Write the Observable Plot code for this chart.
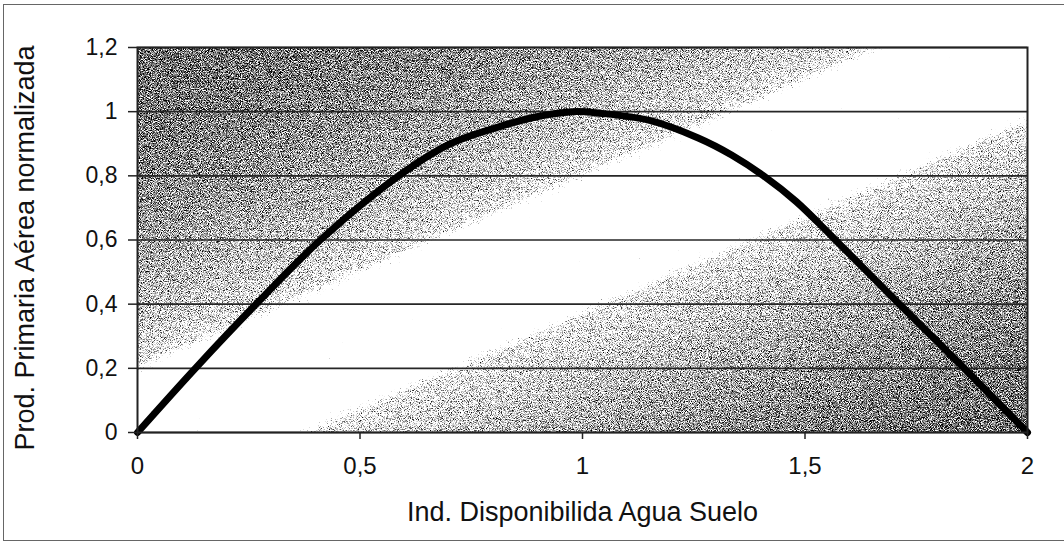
<!DOCTYPE html>
<html>
<head>
<meta charset="utf-8">
<script src="https://cdn.jsdelivr.net/npm/d3@7"></script>
<script src="https://cdn.jsdelivr.net/npm/@observablehq/plot@0.6"></script>
<style>
  html, body { margin: 0; padding: 0; background: #fff; }
  #wrap { position: relative; width: 1064px; height: 547px; overflow: hidden; }
  #border { position: absolute; left: 3px; top: 4px; width: 1070px; height: 537px;
            border: 1.5px solid #666; pointer-events: none; box-sizing: border-box; }
</style>
</head>
<body>
<div id="wrap"><div id="border"></div></div>
<script>
// ---- data ----
const xIndex = [0, 0.13, 0.27, 0.411, 0.587, 0.703, 0.81, 0.9, 0.98, 1.04, 1.153, 1.26, 1.335, 1.407, 1.48, 1.56, 1.705, 1.854, 2];
const yProd  = [0, 0.2, 0.405, 0.6, 0.8, 0.9, 0.952, 0.985, 1.0, 0.995, 0.972, 0.918, 0.865, 0.8, 0.72, 0.612, 0.41, 0.205, 0];
const xTicks = [0, 0.5, 1, 1.5, 2];
const yTicks = [0, 0.2, 0.4, 0.6, 0.8, 1, 1.2];
const xTitle = "Ind. Disponibilida Agua Suelo";
const yTitle = "Prod. Primaria Aérea normalizada";

const data = xIndex.map((x, i) => ({x, y: yProd[i]}));
const fmt = d => String(d).replace(".", ",");

const chart = Plot.plot({
  width: 1064,
  height: 547,
  marginLeft: 137,
  marginRight: 37,
  marginTop: 47,
  marginBottom: 115,
  style: {fontFamily: "'Liberation Sans', Arial, sans-serif", fontSize: "23px", color: "#111", background: "transparent"},
  x: {domain: [0, 2]},
  y: {domain: [0, 1.2]},
  marks: [
    Plot.frame({fill: "url(#bgGrad)", stroke: null}),
    Plot.ruleY(yTicks, {stroke: "#262626", strokeWidth: 1.6}),
    Plot.line(data, {x: "x", y: "y", curve: "catmull-rom", stroke: "#000", strokeWidth: 7, strokeLinejoin: "round", strokeLinecap: "round"}),
    Plot.frame({stroke: "#222", strokeWidth: 2}),
    Plot.axisY(yTicks, {tickFormat: fmt, tickSize: 9, tickPadding: 11, label: null, fontSize: 23, stroke: "#222", strokeWidth: 1.5}),
    Plot.axisX(xTicks, {tickFormat: fmt, tickSize: 7, tickPadding: 17, label: null, fontSize: 24, stroke: "#222", strokeWidth: 1.5}),
    Plot.text([xTitle], {frameAnchor: "bottom", dy: 88, fontSize: 27, fill: "#111"}),
    Plot.text([yTitle], {frameAnchor: "left", dx: -112, dy: 8, rotate: -90, textAnchor: "middle", fontSize: 27, fill: "#111"})
  ]
});

// gradient + grain defs
const svg = d3.select(chart);
const defs = svg.insert("defs", ":first-child");
const grad = defs.append("linearGradient").attr("id", "bgGrad")
  .attr("x1", 0).attr("y1", 0).attr("x2", 1).attr("y2", 1);
const stops = [
  [0.00, 0.307], [0.12, 0.327], [0.22, 0.36], [0.30, 0.407], [0.36, 0.45], [0.39, 0.477], [0.41, 0.51], [0.43, 0.86],
  [0.58, 0.86], [0.60, 0.51], [0.63, 0.477], [0.67, 0.45], [0.73, 0.407], [0.81, 0.36], [0.90, 0.327], [1.00, 0.307]
];
for (const [o, g] of stops) {
  const v = Math.round(g * 255);
  grad.append("stop").attr("offset", o).attr("stop-color", `rgb(${v},${v},${v})`);
}
const f = defs.append("filter").attr("id", "grain")
  .attr("x", 0).attr("y", 0).attr("width", 1).attr("height", 1)
  .attr("color-interpolation-filters", "sRGB");
f.append("feTurbulence").attr("type", "fractalNoise").attr("baseFrequency", 1.1)
  .attr("numOctaves", 2).attr("seed", 7).attr("result", "noise");
f.append("feColorMatrix").attr("in", "noise").attr("type", "matrix")
  .attr("values", "1 0 0 0 0  1 0 0 0 0  1 0 0 0 0  0 0 0 0 1").attr("result", "n");
f.append("feComposite").attr("in", "SourceGraphic").attr("in2", "n")
  .attr("operator", "arithmetic").attr("k1", 0).attr("k2", 3).attr("k3", -3).attr("k4", 1)
  .attr("result", "t");
f.append("feColorMatrix").attr("in", "t").attr("type", "matrix")
  .attr("values", "1 0 0 0 0  0 1 0 0 0  0 0 1 0 0  0 0 0 0 1");
const fr = svg.select("[aria-label=frame]");
const target = fr.node().tagName.toLowerCase() === "rect" ? fr : fr.select("rect");
target.attr("filter", "url(#grain)");

document.getElementById("wrap").prepend(chart);
</script>
</body>
</html>
